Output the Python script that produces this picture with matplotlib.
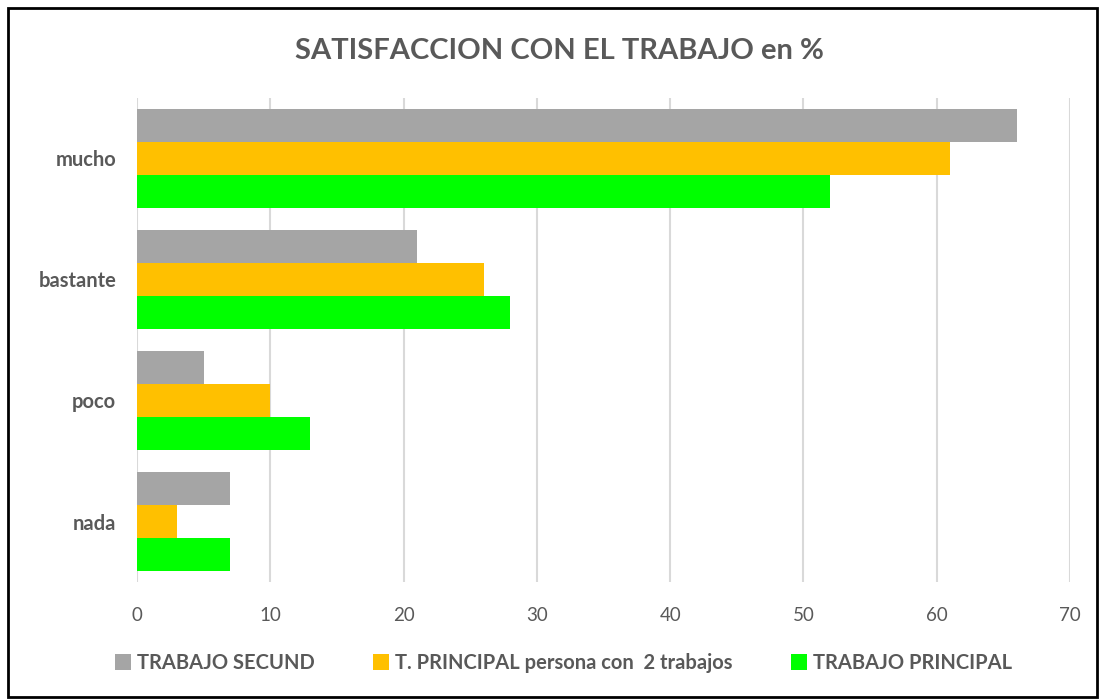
import matplotlib.pyplot as plt
from matplotlib.patches import Rectangle
import numpy as np

# Datos
CATEGORIAS = ["mucho", "bastante", "poco", "nada"]
SERIES = ["TRABAJO SECUND", "T. PRINCIPAL persona con  2 trabajos", "TRABAJO PRINCIPAL"]
SECUND = [66, 21, 5, 7]
PRINC_2 = [61, 26, 10, 3]
PRINCIPAL = [52, 28, 13, 7]
XTICKS = [0, 10, 20, 30, 40, 50, 60, 70]

COLORES = ["#A5A5A5", "#FFC000", "#00FF00"]
TXT = "#595959"

plt.rcParams.update({"font.family": ["Lato", "DejaVu Sans"]})

fig = plt.figure(figsize=(10.99, 6.99), dpi=100)
ax = fig.add_axes([137 / 1099, 1 - 582 / 699, (1070 - 137) / 1099, (582 - 98) / 699])

y = np.arange(len(CATEGORIAS))
h = 0.275
for i, (vals, nombre) in enumerate(zip([SECUND, PRINC_2, PRINCIPAL], SERIES)):
    ax.barh(y + (i - 1) * h, vals, height=h, color=COLORES[i], label=nombre, zorder=3)

ax.set_ylim(3.5, -0.5)
ax.set_xlim(0, 70)
ax.set_xticks(XTICKS)
ax.set_yticks(y)
ax.set_yticklabels(CATEGORIAS, fontsize=14.5, fontweight="bold", color=TXT)
ax.tick_params(axis="x", labelsize=13.5, labelcolor=TXT, length=0, pad=18)
ax.tick_params(axis="y", length=0, pad=15)
ax.grid(axis="x", color="#D9D9D9", linewidth=1.5, zorder=0)
for s in ax.spines.values():
    s.set_visible(False)

fig.text(0.509, 1 - 51 / 699, "SATISFACCION CON EL TRABAJO en %", ha="center", va="center",
         fontsize=21, fontweight="bold", color=TXT)

leg = fig.legend(loc="center", bbox_to_anchor=(0.513, 1 - 663 / 699), ncol=3, frameon=False,
                 handlelength=0.8, handleheight=0.8, handletextpad=0.3, columnspacing=2.9,
                 prop={"size": 14.5, "weight": "bold"})
for t in leg.get_texts():
    t.set_color(TXT)

fig.patches.append(Rectangle((8 / 1099, 2 / 699), 1 - 10 / 1099, 1 - 10 / 699,
                             transform=fig.transFigure, fill=False, edgecolor="black", linewidth=2))

fig.savefig("out.png", dpi=100)
